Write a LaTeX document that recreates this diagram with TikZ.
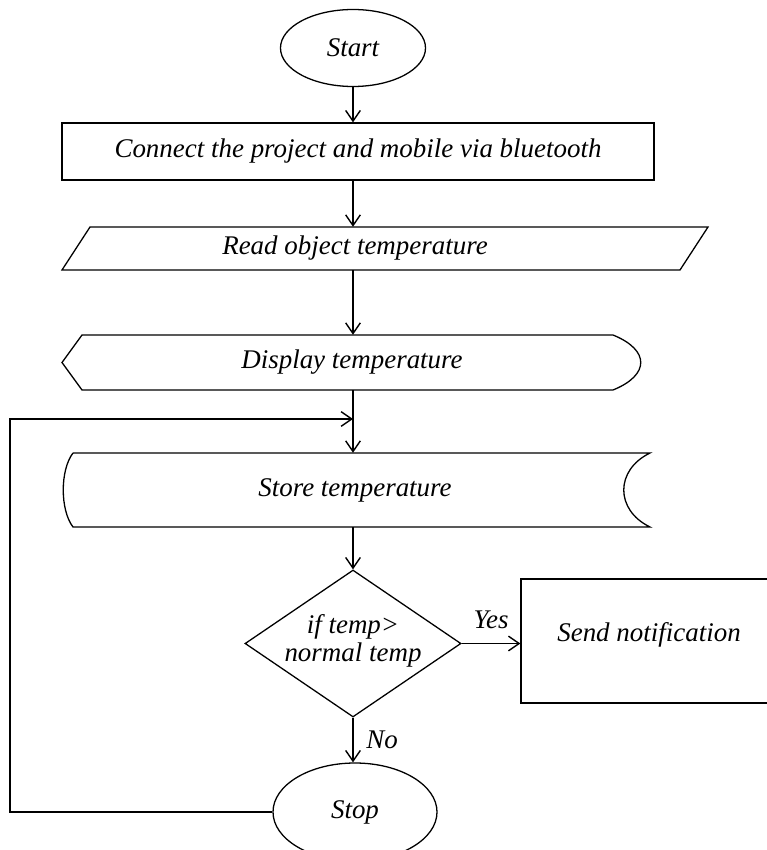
\documentclass[tikz,border=0pt]{standalone}
\usepackage{fontspec}
\setmainfont{Liberation Serif}
\usetikzlibrary{shapes.geometric, arrows.meta, positioning}

\begin{document}
\begin{tikzpicture}[x=0.03cm, y=-0.03cm]
  \tikzset{
    terminal/.style={
      draw,
      ellipse,
      line width=1.1pt,
      minimum width=4.35cm,
      minimum height=2.31cm,
      inner sep=0pt
    },
    process/.style={
      draw,
      line width=1.1pt,
      inner sep=0pt,
      anchor=center
    },
    label/.style={
      inner sep=0pt,
      anchor=center
    },
    decision/.style={
      draw,
      diamond,
      line width=1.1pt,
      minimum width=6.48cm,
      minimum height=4.41cm,
      inner sep=0pt
    },
    flow/.style={
      line width=1.4pt,
      -{Straight Barb[length=3.2mm, width=4.4mm, line width=1.2pt]}
    }
  }
  \useasboundingbox (0,0) rectangle (767,850);
  \fontsize{23}{24}\selectfont\itshape

  % Start and connection
  \node[terminal] at (353, 48) (start) {Start};
  \node[process, minimum width=17.76cm, minimum height=1.71cm] at (358, 151.5) (connect) {
      Connect the project and mobile via bluetooth
  };

  % Input: read temperature
  \draw[line width=1.1pt] (90,227) -- (708,227) -- (680,270) -- (62,270) -- cycle;
  \node[label, minimum height=1.29cm] at (355, 248.5) (read) {Read object temperature};

  % Display
  \draw[line width=1.1pt] (82,335) -- (613,335)
      .. controls (650,350) and (650,375) .. (613,390)
      -- (82,390) -- (62,362.5) -- cycle;
  \node[label, minimum height=1.65cm] at (352, 362.5) (display) {Display temperature};

  % Stored data
  \draw[line width=1.1pt] (73,453) -- (650,453)
      .. controls (615,470) and (615,510) .. (650,527)
      -- (73,527) .. controls (60,510) and (60,470) .. (73,453);
  \node[label, minimum height=2.22cm] at (355, 490) (store) {Store temperature};

  % Decision and outcomes
  \node[decision] at (353, 643.5) (check) {};
  \node[label, align=center] at (353, 641) (checktext) {if temp\textgreater\\normal temp};
  \node[process, minimum width=7.62cm, minimum height=3.72cm] at (648, 641) (notify) {};
  \node[label] at (649, 635) (notifytext) {Send notification};
  \node[terminal, minimum width=4.92cm, minimum height=2.94cm] at (355, 812) (stop) {Stop};

  % Connectors
  \coordinate (merge) at (353, 419);
  \coordinate (corner) at (10, 812);
  \draw[flow] (start.south) -- (start.south |- connect.north);
  \draw[flow] (start.south |- connect.south) -- (read.north -| start.south);
  \draw[flow] (read.south -| start.south) -- (display.north -| start.south);
  \draw[flow] (display.south -| start.south) -- (store.north -| start.south);
  \draw[flow] (store.south -| check.north) -- (check.north);
  \draw[flow] (check.east) -- (check.east -| notify.west)
      node[midway, above=4pt] {Yes};
  \draw[flow] (check.south) -- (check.south |- stop.north)
      node[midway, right=3pt] {No};
  \draw[flow] (stop.west) -- (corner) |- (merge);

\end{tikzpicture}
\end{document}
